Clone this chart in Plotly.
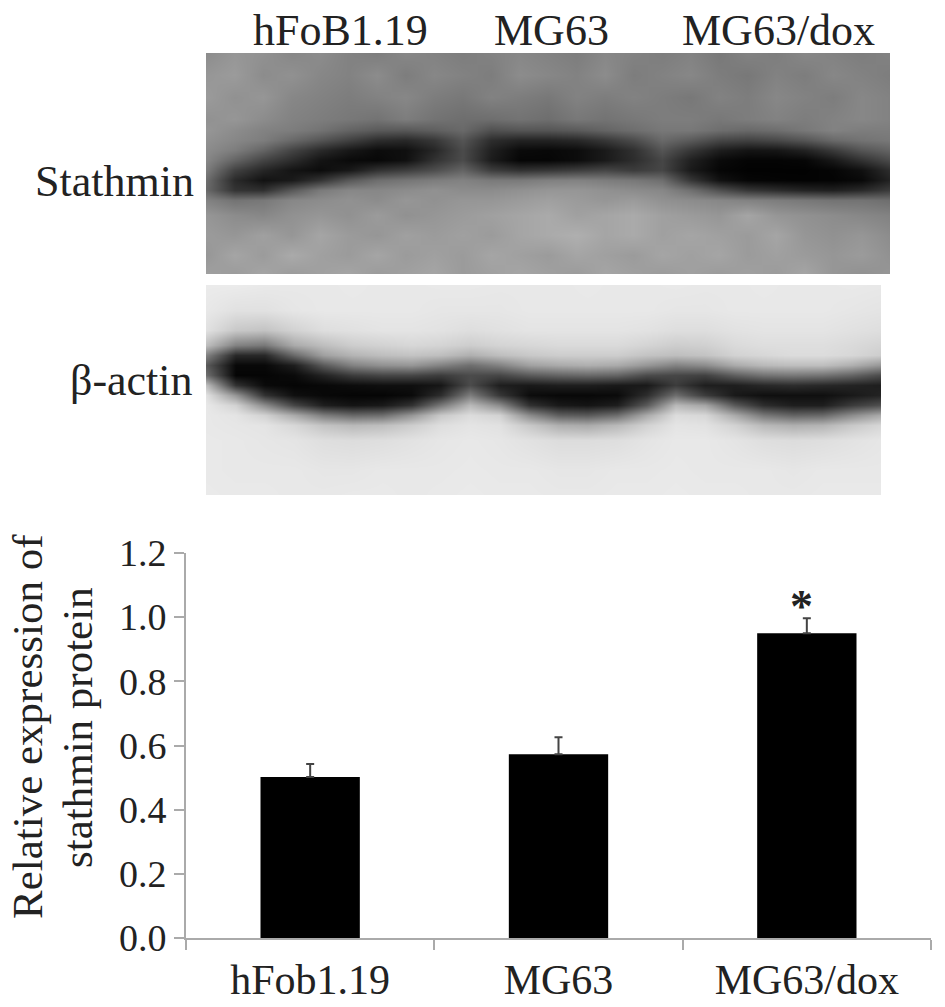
import plotly.graph_objects as go

W, H = 945, 1007

categories = ["hFob1.19", "MG63", "MG63/dox"]
expression = [0.502, 0.573, 0.95]
errors_up = [0.04, 0.053, 0.047]
y_ticks = [0.0, 0.2, 0.4, 0.6, 0.8, 1.0, 1.2]

stathmin_rows = [53, 75, 97, 119, 130, 140, 150, 160, 170, 180, 190, 200, 215, 235, 255, 274]
stathmin_gray = [
    [140,150,145,135,140,130,125,135,130,125,130,135,130,125,135,130,125,130,120,130,125,135,130,125,130],
    [150,155,140,145,135,130,140,125,135,130,125,140,135,130,140,125,130,135,125,120,130,125,135,130,125],
    [155,145,150,135,130,125,130,135,125,120,130,125,120,130,125,130,125,120,130,125,135,130,125,135,130],
    [145,150,140,130,125,120,115,125,115,110,110,115,110,120,115,120,125,125,120,125,130,125,130,135,130],
    [150,140,130,125,115,100,90,88,95,105,80,85,85,90,100,110,120,120,110,105,110,120,130,125,125],
    [145,135,125,105,85,65,45,40,55,85,45,35,35,40,55,75,105,90,70,65,72,85,105,115,120],
    [140,125,100,68,42,24,12,15,38,75,32,10,8,12,26,48,85,55,30,20,22,34,58,85,100],
    [135,100,68,45,20,10,8,16,50,75,28,6,6,12,26,45,70,32,10,4,4,6,24,50,75],
    [125,65,38,20,12,24,50,62,78,100,62,50,55,62,70,60,70,26,6,2,2,2,5,16,45],
    [110,42,18,26,52,88,110,118,125,130,122,122,128,130,125,120,110,55,18,6,4,3,4,9,35],
    [105,52,48,88,122,135,135,140,145,140,140,145,150,150,145,140,135,112,80,55,45,36,32,42,60],
    [130,115,120,135,140,145,140,150,145,150,150,155,160,155,150,155,145,140,135,130,125,120,115,115,110],
    [150,140,135,145,150,145,155,145,150,155,160,165,170,160,165,170,160,155,150,165,150,145,140,135,130],
    [155,150,160,150,165,155,150,160,155,160,155,165,170,175,165,170,160,165,160,155,165,150,145,150,140],
    [150,165,155,170,160,155,165,155,160,155,165,160,155,165,160,155,165,160,165,155,160,155,150,155,145],
    [160,155,165,155,160,165,155,160,165,155,160,165,160,155,165,160,155,160,155,160,155,165,150,145,150],
]

actin_rows = [285, 310, 330, 345, 355, 365, 375, 385, 395, 405, 415, 425, 440, 470, 495]
actin_gray = [
    [235,235,233,232,232,233,232,232,233,233,232,232,232,233,232,232,233,232,232,233,232,232,233,232],
    [232,225,225,230,232,232,232,232,230,230,230,232,232,232,232,232,230,230,232,232,232,232,230,228],
    [225,200,195,210,222,225,228,228,226,222,225,228,228,228,228,226,222,222,226,228,228,228,225,222],
    [190,130,120,170,190,205,210,215,212,205,212,215,218,218,218,212,205,208,218,222,222,222,218,212],
    [130,40,40,105,160,180,190,195,190,175,190,200,205,205,205,195,190,195,210,215,220,220,215,205],
    [90,8,8,30,90,130,145,150,130,110,130,160,170,175,170,150,130,140,170,185,190,190,175,150],
    [110,5,5,10,35,60,70,70,60,75,70,90,100,105,100,75,70,65,95,115,120,115,100,75],
    [190,50,10,5,8,12,15,15,22,75,30,25,30,30,25,25,60,30,30,40,45,40,35,30],
    [225,150,50,15,8,5,5,10,45,125,55,12,8,8,10,45,110,60,25,15,15,15,25,35],
    [232,210,140,70,30,20,25,50,120,185,140,50,25,20,30,90,185,165,90,45,30,30,60,80],
    [232,228,210,170,125,105,110,150,200,220,210,140,95,90,110,170,220,215,170,120,100,105,140,170],
    [232,230,228,215,195,185,190,205,222,228,225,200,175,170,185,210,228,226,210,185,175,180,200,215],
    [233,232,230,228,222,220,222,226,230,232,230,225,220,220,222,228,232,232,228,222,220,222,226,230],
    [233,232,232,232,230,230,232,232,232,233,232,232,230,230,232,232,233,232,232,232,230,232,232,232],
    [234,233,233,232,232,233,233,232,233,234,233,233,232,232,233,233,234,233,233,232,232,233,233,233],
]

SERIF = "Liberation Serif, Times New Roman, serif"
TEXT = "#222222"


def px_x(x):
    return x / W


def px_y(y):
    return 1 - y / H


fig = go.Figure()

fig.add_trace(go.Bar(
    x=categories, y=expression, width=0.4,
    marker=dict(color="#000000", line=dict(width=0)),
    error_y=dict(type="data", symmetric=False, array=errors_up,
                 arrayminus=[0, 0, 0], color="#444444", thickness=2, width=4),
    xaxis="x", yaxis="y", hoverinfo="skip", showlegend=False,
))

gray = [[0, "#000000"], [1, "#ffffff"]]
fig.add_trace(go.Heatmap(
    z=stathmin_gray, y=stathmin_rows, colorscale=gray, zmin=0, zmax=255,
    zsmooth="best", showscale=False, xaxis="x2", yaxis="y2", hoverinfo="skip",
))
fig.add_trace(go.Heatmap(
    z=actin_gray, y=actin_rows, colorscale=gray, zmin=0, zmax=255,
    zsmooth="best", showscale=False, xaxis="x3", yaxis="y3", hoverinfo="skip",
))


def label(text, x, y, size, angle=0, bold=False, xanchor="center"):
    return dict(
        text=f"<b>{text}</b>" if bold else text,
        x=px_x(x), y=px_y(y), xref="paper", yref="paper",
        xanchor=xanchor, yanchor="middle", textangle=angle, showarrow=False,
        font=dict(family=SERIF, size=size, color=TEXT),
    )


annotations = [
    label("hFoB1.19", 340, 30, 44),
    label("MG63", 551, 30, 44),
    label("MG63/dox", 778, 30, 44),
    label("Stathmin", 114, 182, 44),
    label("β-actin", 131, 380, 44),
    label("Relative expression of", 27, 727, 43, angle=-90),
    label("stathmin protein", 77, 728, 43, angle=-90),
    label("*", 801, 606, 46, bold=True),
]

hidden = dict(visible=False, fixedrange=True)

fig.update_layout(
    width=W, height=H, margin=dict(l=0, r=0, t=0, b=0),
    paper_bgcolor="#ffffff", plot_bgcolor="#ffffff",
    showlegend=False, bargap=0.6, annotations=annotations,
    xaxis=dict(
        domain=[px_x(186), px_x(931)], anchor="y", type="category",
        tickson="boundaries", ticks="outside", ticklen=10, tickwidth=2,
        tickcolor="#aaaaaa", showline=True, linecolor="#aaaaaa", linewidth=2,
        showgrid=False, zeroline=False, automargin=False, ticklabelstandoff=4,
        tickfont=dict(family=SERIF, size=42, color=TEXT),
    ),
    yaxis=dict(
        domain=[px_y(938), px_y(553)], anchor="x", range=[0, 1.2],
        tickmode="array", tickvals=y_ticks, ticktext=[f"{v:.1f}" for v in y_ticks],
        ticks="outside", ticklen=10, tickwidth=2, tickcolor="#aaaaaa",
        showline=True, linecolor="#aaaaaa", linewidth=2, showgrid=False,
        zeroline=False, automargin=False,
        tickfont=dict(family=SERIF, size=38, color=TEXT),
    ),
    xaxis2=dict(domain=[px_x(206), px_x(890)], range=[0, 24], anchor="y2", **hidden),
    yaxis2=dict(domain=[px_y(274), px_y(53)], range=[274, 53], anchor="x2", **hidden),
    xaxis3=dict(domain=[px_x(206), px_x(881)], range=[0, 23], anchor="y3", **hidden),
    yaxis3=dict(domain=[px_y(495), px_y(285)], range=[495, 285], anchor="x3", **hidden),
)

fig.write_html("out.html", post_script="document.body.style.margin='0';",
               config=dict(displayModeBar=False))
